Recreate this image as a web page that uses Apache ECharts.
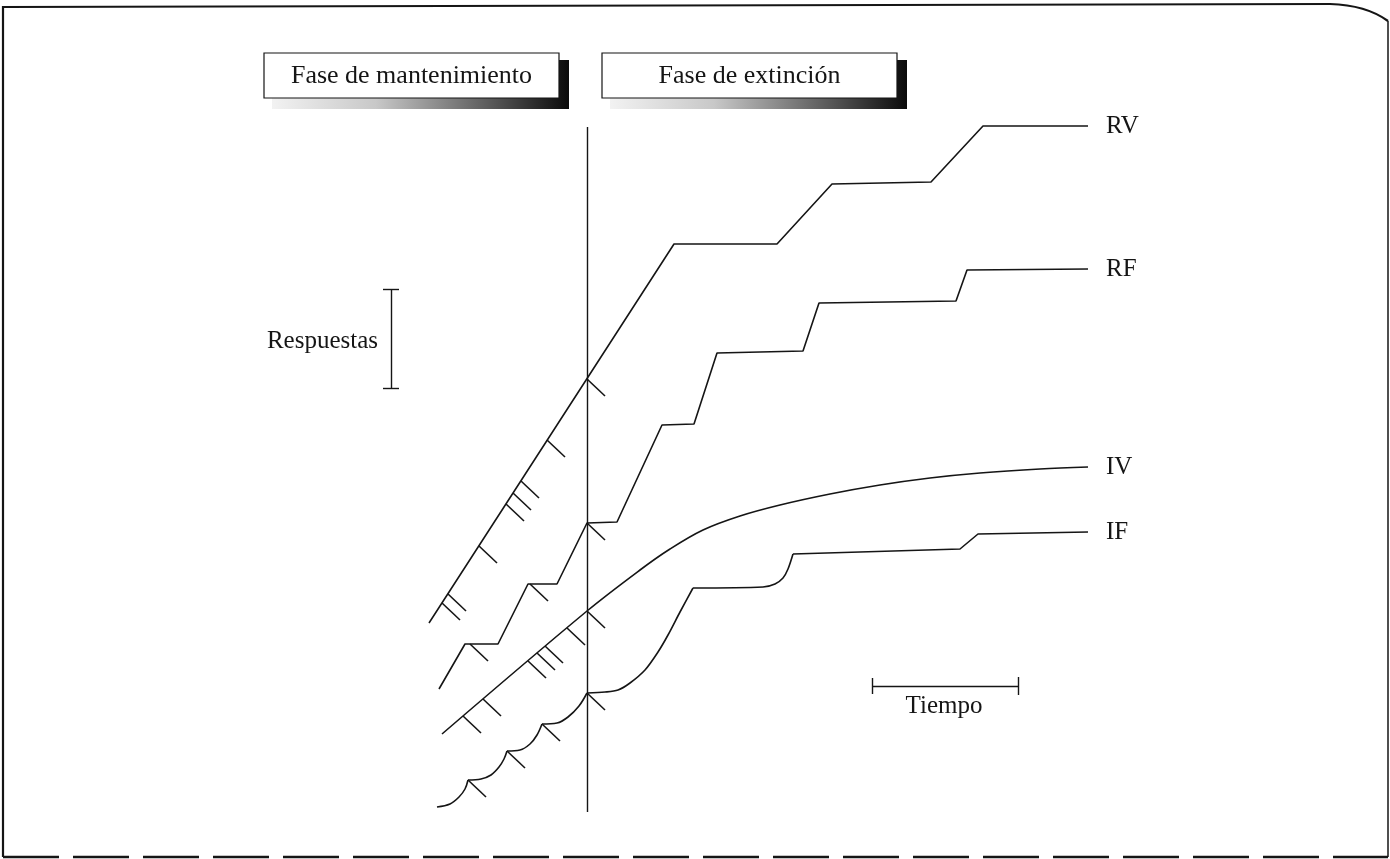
<!DOCTYPE html>
<html>
<head>
<meta charset="utf-8">
<script src="https://cdn.jsdelivr.net/npm/echarts@6/dist/echarts.min.js"></script>
<style>
  html, body { margin: 0; padding: 0; background: #fff; }
  #chart { width: 1390px; height: 859px; }
</style>
</head>
<body>
<div id="chart"></div>
<script>
// schematic cumulative records, coordinates in drawing units (x: time, y: down = fewer responses)
const phaseLabels = ["Fase de mantenimiento", "Fase de extinción"];
const curveNames = ["RV", "RF", "IV", "IF"];

const rvPoints = [[429, 623], [674, 244], [777, 244], [832, 184], [931, 182], [983, 126], [1088, 126]];
const rfPoints = [
  [439, 689], [465, 644], [498, 644], [528, 584], [557, 584], [587, 523], [617, 522],
  [662, 425], [694, 424], [717, 353], [803, 351], [819, 303], [956, 301], [967, 270], [1088, 269],
];
const ivPoints = [
  [442, 734], [587, 611], [640, 570], [670, 549], [703, 530], [740, 516], [780, 505],
  [830, 494], [880, 485], [930, 478], [980, 473], [1040, 469], [1088, 467],
];
// each scallop listed separately so the corners at reinforcement stay sharp
const ifScallops = [
  [[437, 807], [450, 804], [459, 797], [465, 789], [468, 780]],
  [[468, 780], [481, 779], [491, 775], [499, 767], [504, 759], [507, 751]],
  [[507, 751], [520, 750], [530, 744], [537, 735], [542, 724]],
  [[542, 724], [557, 723], [568, 717], [579, 706], [587, 693]],
  [[587, 693], [605, 692], [618, 690], [630, 683], [645, 670], [658, 652], [668, 635], [680, 612], [693, 588]],
  [[693, 588], [763, 587], [775, 584], [783, 578], [788, 569], [793, 554]],
  [[793, 554], [960, 549], [978, 534], [1088, 532]],
];

// reinforcement marks (points where the short diagonal stroke starts)
const rvTicks = [[442, 603], [448, 594], [479, 546], [506, 504], [513, 493], [521, 481], [547, 440], [587, 379]];
const rfTicks = [[470, 644], [530, 584], [587, 523]];
const ivTicks = [[463, 716], [483, 699], [528, 661], [537, 653], [545, 646], [567, 628], [587, 611]];
const ifTicks = [[468, 780], [507, 751], [542, 724], [587, 693]];

const dividerLine = [[587, 127], [587, 812]];
const responsesBar = [[391, 289], [391, 388]];
const timeBar = [[872, 686], [1018, 686]];

const INK = "#151515";
const FONT = "Liberation Serif";
const TICK_DX = 18;
const TICK_DY = 17;
const SERIF = 8;

const tickSegments = [rvTicks, rfTicks, ivTicks, ifTicks]
  .flat()
  .map(([x, y]) => ({ coords: [[x, y], [x + TICK_DX, y + TICK_DY]] }));

const barSegments = [
  { coords: responsesBar },
  { coords: [[responsesBar[0][0] - SERIF, responsesBar[0][1]], [responsesBar[0][0] + SERIF, responsesBar[0][1]]] },
  { coords: [[responsesBar[1][0] - SERIF, responsesBar[1][1]], [responsesBar[1][0] + SERIF, responsesBar[1][1]]] },
  { coords: timeBar },
  { coords: [[timeBar[0][0], timeBar[0][1] - SERIF], [timeBar[0][0], timeBar[0][1] + SERIF]] },
  { coords: [[timeBar[1][0], timeBar[1][1] - 9], [timeBar[1][0], timeBar[1][1] + 9]] },
  { coords: dividerLine },
];

const curveSeries = (name, data, smooth, withLabel = true) => ({
  name,
  type: "line",
  data,
  smooth,
  showSymbol: false,
  silent: true,
  lineStyle: { color: INK, width: 1.6 },
  endLabel: {
    show: withLabel,
    formatter: "{a}",
    distance: 18,
    color: INK,
    fontFamily: FONT,
    fontSize: 25,
  },
});

const ifSeries = ifScallops.map((part, i) =>
  curveSeries(curveNames[3], part, i === 4 || i === 5 ? 0.3 : i < 4 ? 0.35 : false, i === ifScallops.length - 1),
);

const phaseBox = (x, text) => {
  const y = 53, w = 295, h = 45;
  const shade = new echarts.graphic.LinearGradient(0, 0, 1, 0, [
    { offset: 0, color: "#f2f2f2" },
    { offset: 0.35, color: "#c8c8c8" },
    { offset: 0.75, color: "#555" },
    { offset: 1, color: "#0a0a0a" },
  ]);
  return [
    { type: "rect", shape: { x: x + 8, y: y + 7, width: w + 2, height: h + 4 }, style: { fill: shade }, z: 1 },
    { type: "rect", shape: { x, y, width: w, height: h }, style: { fill: "#fff", stroke: INK, lineWidth: 1.2 }, z: 2 },
    {
      type: "text", x: x + w / 2, y: y + h / 2 + 1, z: 3,
      style: { text, fill: INK, font: `26px "${FONT}"`, align: "center", verticalAlign: "middle" },
    },
  ];
};

const chart = echarts.init(document.getElementById("chart"));
chart.setOption({
  animation: false,
  backgroundColor: "#fff",
  grid: { left: 0, right: 0, top: 0, bottom: 0 },
  xAxis: { type: "value", min: 0, max: 1390, show: false },
  yAxis: { type: "value", min: 0, max: 859, inverse: true, show: false },
  series: [
    curveSeries(curveNames[0], rvPoints, false),
    curveSeries(curveNames[1], rfPoints, false),
    curveSeries(curveNames[2], ivPoints, 0.35),
    ...ifSeries,
    {
      type: "lines",
      coordinateSystem: "cartesian2d",
      silent: true,
      data: tickSegments,
      lineStyle: { color: INK, width: 1.6, opacity: 1 },
    },
    {
      type: "lines",
      coordinateSystem: "cartesian2d",
      silent: true,
      data: barSegments,
      lineStyle: { color: INK, width: 1.4, opacity: 1 },
    },
    {
      type: "scatter",
      silent: true,
      symbolSize: 0,
      itemStyle: { opacity: 1 },
      data: [
        { value: [378, 341], name: "Respuestas", label: { align: "right", position: "inside" } },
        { value: [944, 706], name: "Tiempo", label: { align: "center", position: "inside" } },
      ],
      label: {
        show: true,
        formatter: "{b}",
        color: INK,
        fontFamily: FONT,
        fontSize: 25,
      },
    },
  ],
  graphic: [
    // page frame
    { type: "polyline", shape: { points: [[3, 857], [3, 7], [1330, 4]] }, style: { stroke: INK, lineWidth: 2.2, fill: null } },
    { type: "bezierCurve", shape: { x1: 1330, y1: 4, cpx1: 1366, cpy1: 5, x2: 1388, y2: 21 }, style: { stroke: INK, lineWidth: 2.2, fill: null } },
    { type: "line", shape: { x1: 1388, y1: 21, x2: 1388, y2: 857 }, style: { stroke: INK, lineWidth: 1.5 } },
    { type: "line", shape: { x1: 3, y1: 857, x2: 1388, y2: 857 }, style: { stroke: INK, lineWidth: 2.5, lineDash: [56, 14] } },
    ...phaseBox(264, phaseLabels[0]),
    ...phaseBox(602, phaseLabels[1]),
  ],
});
</script>
</body>
</html>
